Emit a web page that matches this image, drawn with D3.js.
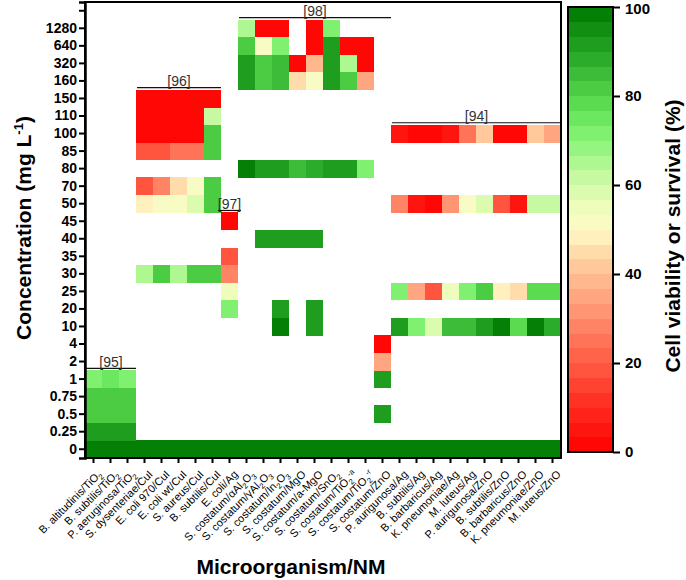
<!DOCTYPE html>
<html>
<head>
<meta charset="utf-8">
<script src="https://cdn.jsdelivr.net/npm/d3@7"></script>
<style>
  body { margin: 0; background: #fff; }
  svg { display: block; font-family: "Liberation Sans", Arial, sans-serif; }
</style>
</head>
<body>
<svg id="chart" width="686" height="580"></svg>
<script>
// ---------- DATA ----------
// x categories (microorganism / nanomaterial); "_n" = subscript, "^x" = superscript tail
const organisms = [
  "B. altitudinis/TiO_2", "B. subtilis/TiO_2", "P. aeruginosa/TiO_2",
  "S. dysenteriae/CuI", "E. coli 970/CuI", "E. coli wt/CuI", "S. aureus/CuI", "B. subtilis/CuI",
  "E. coli/Ag",
  "S. costatum/αAl_2O_3", "S. costatum/γAl_2O_3", "S. costatum/In_2O_3", "S. costatum/MgO",
  "S. costatum/a-MgO", "S. costatum/SnO_2", "S. costatum/TiO_2^-a", "S. costatum/TiO_2^-r",
  "S. costatum/ZnO",
  "P. aurigunosa/Ag", "B. subtilis/Ag", "B. barbaricus/Ag", "K. pneumoniae/Ag", "M. luteus/Ag",
  "P. aurigunosa/ZnO", "B. subtilis/ZnO", "B. barbaricus/ZnO", "K. pneumoniae/ZnO", "M. luteus/ZnO"
];

// y categories (concentration, mg/L), bottom to top; last one is an empty slot
const concentrations = ["0","0.25","0.5","0.75","1","2","4","10","20","25","30","35","40","45",
  "50","70","80","85","100","110","150","160","320","640","1280",""];

// cell viability (%) per concentration row, 28 columns each
// column groups: [95] 3 | [96] 5 | [97] 1 | [98] 8 | S.c./ZnO 1 | [94] 10
const _ = null;
const viability = {
  "0":    [99,99,99, 99,99,99,99,99, 99, 99,99,99,99,99,99,99,99, 99, 99,99,99,99,99,99,99,99,99,99],
  "0.25": [92,90,90, _,_,_,_,_, _, _,_,_,_,_,_,_,_, _, _,_,_,_,_,_,_,_,_,_],
  "0.5":  [80,80,80, _,_,_,_,_, _, _,_,_,_,_,_,_,_, 93, _,_,_,_,_,_,_,_,_,_],
  "0.75": [80,80,80, _,_,_,_,_, _, _,_,_,_,_,_,_,_, _, _,_,_,_,_,_,_,_,_,_],
  "1":    [73,75,73, _,_,_,_,_, _, _,_,_,_,_,_,_,_, 90, _,_,_,_,_,_,_,_,_,_],
  "2":    [_,_,_, _,_,_,_,_, _, _,_,_,_,_,_,_,_, 35, _,_,_,_,_,_,_,_,_,_],
  "4":    [_,_,_, _,_,_,_,_, _, _,_,_,_,_,_,_,_, 2, _,_,_,_,_,_,_,_,_,_],
  "10":   [_,_,_, _,_,_,_,_, _, _,_,99,_,93,_,_,_, _, 93,72,59,84,84,93,99,78,99,87],
  "20":   [_,_,_, _,_,_,_,_, 72, _,_,93,_,93,_,_,_, _, _,_,_,_,_,_,_,_,_,_],
  "25":   [_,_,_, _,_,_,_,_, 55, _,_,_,_,_,_,_,_, _, 72,35,17,55,72,82,47,44,78,78],
  "30":   [_,_,_, 65,80,65,80,80, 27, _,_,_,_,_,_,_,_, _, _,_,_,_,_,_,_,_,_,_],
  "35":   [_,_,_, _,_,_,_,_, 17, _,_,_,_,_,_,_,_, _, _,_,_,_,_,_,_,_,_,_],
  "40":   [_,_,_, _,_,_,_,_, _, _,93,90,93,90,_,_,_, _, _,_,_,_,_,_,_,_,_,_],
  "45":   [_,_,_, _,_,_,_,_, 2, _,_,_,_,_,_,_,_, _, _,_,_,_,_,_,_,_,_,_],
  "50":   [_,_,_, 47,51,51,59,80, _, _,_,_,_,_,_,_,_, _, 27,5,2,31,51,59,19,5,60,62],
  "70":   [_,_,_, 19,28,44,51,80, _, _,_,_,_,_,_,_,_, _, _,_,_,_,_,_,_,_,_,_],
  "80":   [_,_,_, _,_,_,_,_, _, 99,90,90,84,87,93,93,72, _, _,_,_,_,_,_,_,_,_,_],
  "85":   [_,_,_, 17,17,25,25,80, _, _,_,_,_,_,_,_,_, _, _,_,_,_,_,_,_,_,_,_],
  "100":  [_,_,_, 2,2,2,2,80, _, _,_,_,_,_,_,_,_, _, 6,2,2,6,24,41,2,2,41,35],
  "110":  [_,_,_, 2,2,2,2,62, _, _,_,_,_,_,_,_,_, _, _,_,_,_,_,_,_,_,_,_],
  "150":  [_,_,_, 2,2,2,2,2, _, _,_,_,_,_,_,_,_, _, _,_,_,_,_,_,_,_,_,_],
  "160":  [_,_,_, _,_,_,_,_, _, 92,80,85,44,51,90,82,35, _, _,_,_,_,_,_,_,_,_,_],
  "320":  [_,_,_, _,_,_,_,_, _, 90,80,84,2,38,90,65,2, _, _,_,_,_,_,_,_,_,_,_],
  "640":  [_,_,_, _,_,_,_,_, _, 80,51,72,_,2,90,2,2, _, _,_,_,_,_,_,_,_,_,_],
  "1280": [_,_,_, _,_,_,_,_, _, 65,2,2,_,2,72,_,_, _, _,_,_,_,_,_,_,_,_,_]
};

// reference groups: label, first column, last column, top concentration
const refLabels = ["[95]", "[96]", "[97]", "[98]", "[94]"];
const refFirst  = [0, 3, 8, 9, 18];
const refLast   = [2, 7, 8, 17, 27];
const refTop    = ["1", "150", "45", "1280", "100"];

const legendTicks = [0, 20, 40, 60, 80, 100];
const legendSteps = 30;

// colour stops of the viability colour bar
const stopVals = [0, 10, 20, 30, 40, 45, 50, 55, 60, 65, 70, 75, 80, 85, 90, 95, 100];
const stopCols = ["#ff0000","#ff2a1e","#ff5c44","#ff8c6c","#ffbf95","#ffdcaa","#fffac8","#eefcbc",
  "#d2faa8","#aef892","#8af478","#6ce860","#52d448","#3cbc38","#24a424","#128e12","#007800"];

// ---------- DRAW ----------
const svg = d3.select("#chart");
const L = 85, R = 561, T = 2, B = 458;

const x = d3.scaleBand().domain(organisms.map((d, i) => i)).range([L, R]).padding(0);
const y = d3.scaleBand().domain(concentrations.map((d, i) => i)).range([B, T]).padding(0);
const cIndex = c => concentrations.indexOf(c);

const baseColor = d3.scaleLinear().domain(stopVals).range(stopCols).interpolate(d3.interpolateRgb);
const step = 100 / legendSteps;
function colorOf(v) {
  const b = Math.min(legendSteps - 1, Math.floor(v / step));
  return baseColor((b + 0.5) * step);
}

svg.append("rect").attr("width", 686).attr("height", 580).attr("fill", "#fff");

// cells
const cells = [];
Object.keys(viability).forEach(c => {
  viability[c].forEach((v, i) => { if (v !== null) cells.push({ c, i, v }); });
});
svg.append("g").selectAll("rect").data(cells).join("rect")
  .attr("x", d => x(d.i))
  .attr("y", d => y(cIndex(d.c)))
  .attr("width", x.bandwidth() + 0.3)
  .attr("height", y.bandwidth() + 0.3)
  .attr("fill", d => colorOf(d.v))
  .attr("shape-rendering", "crispEdges");

// reference brackets
refLabels.forEach((lab, k) => {
  const x0 = x(refFirst[k]) + (refFirst[k] === refLast[k] ? -3 : 1);
  const x1 = x(refLast[k]) + x.bandwidth() + (refFirst[k] === refLast[k] ? 3 : 0);
  const yy = y(cIndex(refTop[k])) - 2;
  svg.append("line").attr("x1", x0).attr("x2", x1).attr("y1", yy).attr("y2", yy)
    .attr("stroke", "#111").attr("stroke-width", 1.2);
  svg.append("text").attr("x", (x0 + x1) / 2).attr("y", yy - 1.5)
    .attr("text-anchor", "middle").attr("font-size", 14).attr("fill", "#333").text(lab);
});

// frame
svg.append("rect").attr("x", L).attr("y", T).attr("width", R - L).attr("height", B - T)
  .attr("fill", "none").attr("stroke", "#000").attr("stroke-width", 2);

// y axis
const yAxis = d3.axisLeft(y).tickSize(6).tickFormat(i => concentrations[i]);
const gy = svg.append("g").attr("transform", `translate(${L},0)`).call(yAxis);
gy.select(".domain").attr("stroke-width", 2.5);
gy.selectAll(".tick line").attr("stroke-width", 2);
gy.selectAll(".tick text").attr("font-size", 14).attr("font-weight", "bold")
  .attr("font-family", "'Liberation Sans', Arial, sans-serif").attr("fill", "#000").attr("x", -8);

// x axis (ticks only, labels drawn manually for subscripts)
const xAxis = d3.axisBottom(x).tickSize(5).tickFormat("");
const gx = svg.append("g").attr("transform", `translate(0,${B})`).call(xAxis);
gx.select(".domain").remove();
gx.selectAll(".tick line").attr("stroke-width", 2);

function richText(sel, label, sub, sup) {
  const re = /(_\d|\^.+$)/g;
  const parts = label.split(re).filter(s => s !== "");
  let shift = 0;
  parts.forEach(p => {
    if (p[0] === "_") {
      sel.append("tspan").attr("dy", sub - shift).attr("font-size", "0.7em").text(p.slice(1));
      shift = sub;
    } else if (p[0] === "^") {
      sel.append("tspan").attr("dy", sup - shift).attr("font-size", "0.7em").text(p.slice(1));
      shift = sup;
    } else {
      sel.append("tspan").attr("dy", -shift).text(p);
      shift = 0;
    }
  });
}
organisms.forEach((lab, i) => {
  const cx = x(i) + x.bandwidth() / 2;
  const t = svg.append("text")
    .attr("transform", `translate(${cx + 9},${B + 17}) rotate(-45)`)
    .attr("text-anchor", "end").attr("font-size", 11).attr("fill", "#000");
  richText(t, lab, 3, -4);
});

// axis titles
const yt = svg.append("text").attr("transform", "translate(31,228) rotate(-90)")
  .attr("text-anchor", "middle").attr("font-size", 21).attr("font-weight", "bold");
yt.append("tspan").text("Concentration (mg L");
yt.append("tspan").attr("dy", -8).attr("font-size", 13).text("-1");
yt.append("tspan").attr("dy", 8).text(")");

svg.append("text").attr("x", 291).attr("y", 574).attr("text-anchor", "middle")
  .attr("font-size", 21).attr("font-weight", "bold").text("Microorganism/NM");

// colour bar
const CBL = 568, CBR = 613;
const ly = d3.scaleLinear().domain([0, 100]).range([452, 7]);
const steps = d3.range(legendSteps).map(k => k * step);
svg.append("g").selectAll("rect").data(steps).join("rect")
  .attr("x", CBL).attr("width", CBR - CBL)
  .attr("y", d => ly(d + step)).attr("height", d => ly(d) - ly(d + step) + 0.3)
  .attr("fill", d => baseColor(d + step / 2)).attr("shape-rendering", "crispEdges");
svg.append("rect").attr("x", CBL).attr("y", ly(100)).attr("width", CBR - CBL)
  .attr("height", ly(0) - ly(100)).attr("fill", "none").attr("stroke", "#000").attr("stroke-width", 2);
const gl = svg.append("g").attr("transform", `translate(${CBR},0)`)
  .call(d3.axisRight(ly).tickValues(legendTicks).tickSize(7));
gl.select(".domain").remove();
gl.selectAll(".tick line").attr("stroke-width", 2);
gl.selectAll(".tick text").attr("font-size", 15).attr("font-weight", "bold")
  .attr("font-family", "'Liberation Sans', Arial, sans-serif").attr("fill", "#000").attr("x", 12)
  .attr("dy", d => d === 100 ? "0.45em" : "0.32em");

svg.append("text").attr("transform", "translate(680,236) rotate(-90)")
  .attr("text-anchor", "middle").attr("font-size", 21).attr("font-weight", "bold")
  .text("Cell viability or survival (%)");
</script>
</body>
</html>
